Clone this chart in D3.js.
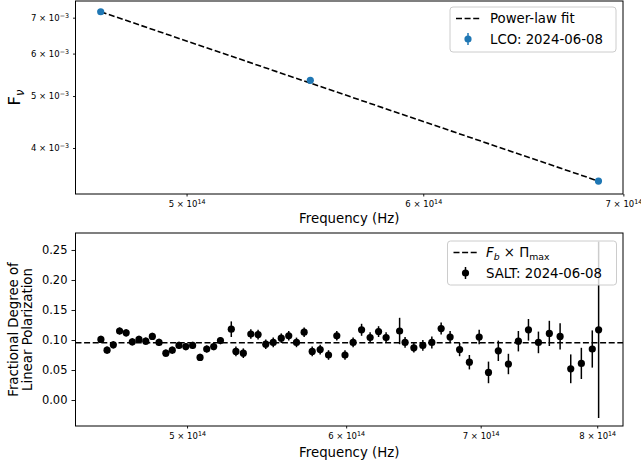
<!DOCTYPE html>
<html>
<head>
<meta charset="utf-8">
<script src="https://cdn.jsdelivr.net/npm/d3@7"></script>
<style>
body { margin: 0; background: #fff; }
svg { font-family: 'DejaVu Sans', sans-serif; }
</style>
</head>
<body>
<svg id="chart"></svg>
<script>
// LCO photometry (Hz, flux)
const lcoFreq = [4.68e14, 5.50e14, 6.867e14];
const lcoFlux = [7.18e-3, 5.35e-3, 3.47e-3];
const lcoErr = [0.02e-3, 0.02e-3, 0.02e-3];
const fitFreq = [4.68e14, 6.867e14];
const fitFlux = [7.18e-3, 3.47e-3];

// SALT spectropolarimetry, frequency in units of 1e14 Hz
const saltFreq = [4.530, 4.562, 4.595, 4.628, 4.663, 4.696, 4.732, 4.769, 4.805, 4.842,
    4.880, 4.916, 4.954, 4.993, 5.032, 5.075, 5.114, 5.155, 5.195, 5.260,
    5.288, 5.333, 5.379, 5.424, 5.472, 5.519, 5.570, 5.618, 5.668, 5.718,
    5.771, 5.824, 5.880, 5.936, 5.992, 6.048, 6.107, 6.167, 6.227, 6.281,
    6.379, 6.419, 6.484, 6.551, 6.619, 6.690, 6.759, 6.833, 6.910, 6.988,
    7.063, 7.143, 7.226, 7.309, 7.394, 7.479, 7.573, 7.667, 7.761, 7.856,
    7.955, 8.013];
const saltPol = [0.101, 0.083, 0.092, 0.115, 0.112, 0.097, 0.101, 0.098, 0.106, 0.096,
    0.078, 0.083, 0.091, 0.089, 0.091, 0.071, 0.085, 0.089, 0.099, 0.118,
    0.081, 0.078, 0.110, 0.109, 0.093, 0.096, 0.103, 0.107, 0.096, 0.113,
    0.081, 0.084, 0.075, 0.107, 0.075, 0.096, 0.117, 0.104, 0.114, 0.104,
    0.115, 0.096, 0.087, 0.091, 0.096, 0.119, 0.105, 0.084, 0.063, 0.105,
    0.046, 0.082, 0.060, 0.098, 0.117, 0.096, 0.111, 0.106, 0.052, 0.061,
    0.085, 0.117];
const saltErr = [0.006, 0.006, 0.006, 0.006, 0.006, 0.006, 0.006, 0.006, 0.006, 0.006,
    0.006, 0.006, 0.006, 0.006, 0.006, 0.006, 0.006, 0.006, 0.006, 0.013,
    0.008, 0.008, 0.008, 0.008, 0.008, 0.008, 0.008, 0.008, 0.008, 0.008,
    0.008, 0.008, 0.008, 0.008, 0.008, 0.008, 0.010, 0.009, 0.009, 0.009,
    0.022, 0.009, 0.008, 0.009, 0.010, 0.010, 0.010, 0.011, 0.012, 0.012,
    0.018, 0.017, 0.017, 0.017, 0.018, 0.018, 0.021, 0.022, 0.024, 0.026,
    0.031, 0.147];
const fbPiMax = 0.0955;

const topXTicks = [5, 6, 7];      // x 10^14
const topYTicks = [4, 5, 6, 7];   // x 10^-3
const botXTicks = [5, 6, 7, 8];   // x 10^14
const botYTicks = [0, 0.05, 0.10, 0.15, 0.20, 0.25];

const lcoLabel = 'LCO: 2024-06-08';
const saltLabel = 'SALT: 2024-06-08';
const fitLabel = 'Power-law fit';

const svg = d3.select('#chart').attr('width', 641).attr('height', 466);

const left = 75.5, right = 623;
const topBox = { y0: 1, y1: 194 };
const botBox = { y0: 233, y1: 426 };
const blue = '#1f77b4';

const xTop = d3.scaleLog().domain([4.59e14, 6.998e14]).range([left, right]);
const yTop = d3.scaleLog().domain([3.283e-3, 7.52e-3]).range([topBox.y1, topBox.y0]);
const xBot = d3.scaleLog().domain([4.40e14, 8.24e14]).range([left, right]);
const yBot = d3.scaleLinear().domain([-0.0433, 0.2783]).range([botBox.y1, botBox.y0]);

// "m × 10^e" labels for the log axes
function sciTicks(g, exp) {
    g.selectAll('.tick text').each(function (d) {
        const t = d3.select(this);
        const m = Math.round(d / Math.pow(10, exp));
        t.text(null);
        t.append('tspan').text(m + ' × 10');
        t.append('tspan').attr('dy', '-0.45em').attr('font-size', '0.75em')
            .text(exp < 0 ? '\u2212' + (-exp) : exp);
    });
}

function styleAxis(g, size) {
    g.select('.domain').remove();
    g.attr('font-family', null).attr('font-size', size);
    g.selectAll('.tick line').attr('stroke', '#000').attr('stroke-width', 0.9);
    g.selectAll('.tick text').attr('fill', '#000');
}

// ---- top panel ----
svg.append('g')
    .attr('transform', `translate(0,${topBox.y1})`)
    .call(d3.axisBottom(xTop).tickValues(topXTicks.map(v => v * 1e14)).tickSize(2.5).tickPadding(4))
    .call(g => styleAxis(g, 8.5))
    .call(g => sciTicks(g, 14));

svg.append('g')
    .attr('transform', `translate(${left},0)`)
    .call(d3.axisLeft(yTop).tickValues(topYTicks.map(v => v * 1e-3)).tickSize(2.5).tickPadding(4))
    .call(g => styleAxis(g, 8.5))
    .call(g => sciTicks(g, -3));

const fitLine = d3.line()
    .x((d, i) => xTop(fitFreq[i]))
    .y(d => yTop(d));

svg.append('path')
    .attr('d', fitLine(fitFlux))
    .attr('fill', 'none')
    .attr('stroke', '#000')
    .attr('stroke-width', 1.6)
    .attr('stroke-dasharray', '6,2.6');

svg.selectAll('line.lcoerr')
    .data(lcoFlux)
    .join('line')
    .attr('class', 'lcoerr')
    .attr('x1', (d, i) => xTop(lcoFreq[i]))
    .attr('x2', (d, i) => xTop(lcoFreq[i]))
    .attr('y1', (d, i) => yTop(d - lcoErr[i]))
    .attr('y2', (d, i) => yTop(d + lcoErr[i]))
    .attr('stroke', blue)
    .attr('stroke-width', 1.5);

svg.selectAll('circle.lco')
    .data(lcoFlux)
    .join('circle')
    .attr('class', 'lco')
    .attr('cx', (d, i) => xTop(lcoFreq[i]))
    .attr('cy', d => yTop(d))
    .attr('r', 3.6)
    .attr('fill', blue);

svg.append('rect')
    .attr('x', left).attr('y', topBox.y0)
    .attr('width', right - left).attr('height', topBox.y1 - topBox.y0)
    .attr('fill', 'none').attr('stroke', '#000').attr('stroke-width', 1);

svg.append('text')
    .attr('x', (left + right) / 2).attr('y', 223)
    .attr('text-anchor', 'middle').attr('font-size', 13.3)
    .text('Frequency (Hz)');

const fnu = svg.append('text')
    .attr('transform', `translate(20,${(topBox.y0 + topBox.y1) / 2}) rotate(-90)`)
    .attr('text-anchor', 'middle').attr('font-size', 16.5);
fnu.append('tspan').text('F');
fnu.append('tspan').attr('dy', 3.5).attr('font-size', '0.7em').attr('font-style', 'italic').text('ν');

// ---- bottom panel ----
svg.append('g')
    .attr('transform', `translate(0,${botBox.y1})`)
    .call(d3.axisBottom(xBot).tickValues(botXTicks.map(v => v * 1e14)).tickSize(2.5).tickPadding(4))
    .call(g => styleAxis(g, 8.5))
    .call(g => sciTicks(g, 14));

svg.append('g')
    .attr('transform', `translate(${left},0)`)
    .call(d3.axisLeft(yBot).tickValues(botYTicks).tickFormat(d3.format('.2f')).tickSize(4).tickPadding(4))
    .call(g => styleAxis(g, 11.5));

svg.append('line')
    .attr('x1', left).attr('x2', right)
    .attr('y1', yBot(fbPiMax)).attr('y2', yBot(fbPiMax))
    .attr('stroke', '#000')
    .attr('stroke-width', 1.6)
    .attr('stroke-dasharray', '6,2.6');

svg.selectAll('line.salterr')
    .data(saltPol)
    .join('line')
    .attr('class', 'salterr')
    .attr('x1', (d, i) => xBot(saltFreq[i] * 1e14))
    .attr('x2', (d, i) => xBot(saltFreq[i] * 1e14))
    .attr('y1', (d, i) => yBot(d - saltErr[i]))
    .attr('y2', (d, i) => yBot(d + saltErr[i]))
    .attr('stroke', '#000')
    .attr('stroke-width', 1.5);

svg.selectAll('circle.salt')
    .data(saltPol)
    .join('circle')
    .attr('class', 'salt')
    .attr('cx', (d, i) => xBot(saltFreq[i] * 1e14))
    .attr('cy', d => yBot(d))
    .attr('r', 3.6)
    .attr('fill', '#000');

svg.append('rect')
    .attr('x', left).attr('y', botBox.y0)
    .attr('width', right - left).attr('height', botBox.y1 - botBox.y0)
    .attr('fill', 'none').attr('stroke', '#000').attr('stroke-width', 1);

svg.append('text')
    .attr('x', (left + right) / 2).attr('y', 457)
    .attr('text-anchor', 'middle').attr('font-size', 13.3)
    .text('Frequency (Hz)');

const ylab = svg.append('text')
    .attr('transform', `translate(0,${(botBox.y0 + botBox.y1) / 2}) rotate(-90)`)
    .attr('text-anchor', 'middle').attr('font-size', 13.3);
ylab.append('tspan').attr('x', 0).attr('y', 17.5).text('Fractional Degree of');
ylab.append('tspan').attr('x', 0).attr('y', 31.5).text('Linear Polarization');

// ---- legends ----
function legend(x, y, w, h, color, lineText, pointText) {
    const g = svg.append('g').attr('transform', `translate(${x},${y})`);
    g.append('rect')
        .attr('width', w).attr('height', h).attr('rx', 3)
        .attr('fill', '#fff').attr('fill-opacity', 0.8)
        .attr('stroke', '#ccc').attr('stroke-width', 1);
    g.append('line')
        .attr('x1', 6).attr('x2', 30).attr('y1', 11.5).attr('y2', 11.5)
        .attr('stroke', '#000').attr('stroke-width', 1.6).attr('stroke-dasharray', '6,2.6');
    g.append('line')
        .attr('x1', 18).attr('x2', 18).attr('y1', 26).attr('y2', 38)
        .attr('stroke', color).attr('stroke-width', 1.5);
    g.append('circle').attr('cx', 18).attr('cy', 32).attr('r', 3.6).attr('fill', color);
    const t1 = g.append('text').attr('x', 40).attr('y', 16).attr('font-size', 13.3);
    lineText(t1);
    g.append('text').attr('x', 40).attr('y', 37).attr('font-size', 13.3).text(pointText);
}

legend(450, 7, 166, 45, blue, t => t.text(fitLabel), lcoLabel);
legend(447.5, 241, 169, 44, '#000', t => {
    t.attr('x', 38.5);
    t.append('tspan').attr('font-style', 'italic').text('F');
    t.append('tspan').attr('font-style', 'italic').attr('font-size', '0.7em').attr('dy', 3).text('b');
    t.append('tspan').attr('dy', -3).text(' × Π');
    t.append('tspan').attr('font-size', '0.7em').attr('dy', 3).text('max');
}, saltLabel);
svg.selectAll('g text').filter(function () { return this.textContent === saltLabel; }).attr('x', 38.5);
</script>
</body>
</html>
